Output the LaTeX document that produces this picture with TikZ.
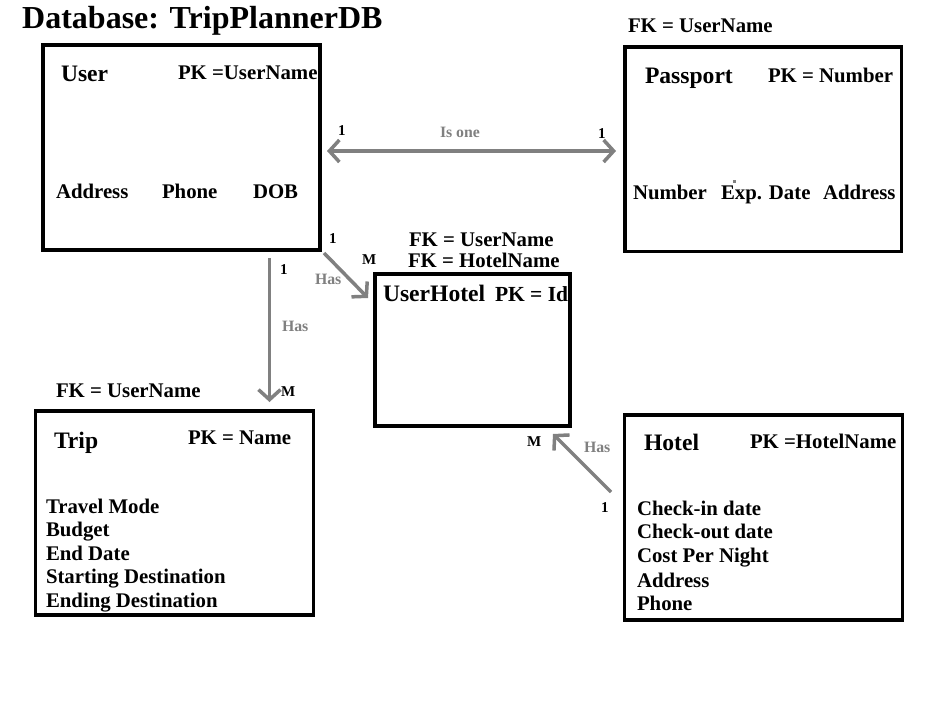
\documentclass[tikz,border=0pt]{standalone}
\usepackage{fontspec}
\setmainfont{Liberation Serif}[BoldFont={Liberation Serif Bold}]
\usetikzlibrary{arrows.meta,calc}
\definecolor{relgray}{HTML}{808080}
\tikzset{
  entity/.style={draw=black, line width=3.5pt, rectangle, inner sep=0pt, outer sep=0pt},
  txt/.style={anchor=base west, inner sep=0pt, outer sep=0pt, font=\bfseries\fontsize{20.8}{24}\selectfont},
  ttl/.style={anchor=base west, inner sep=0pt, outer sep=0pt, font=\bfseries\fontsize{23.6}{28}\selectfont},
  card/.style={anchor=base west, inner sep=0pt, outer sep=0pt, font=\bfseries\fontsize{15}{18}\selectfont},
  rel/.style={anchor=base west, inner sep=0pt, outer sep=0pt, text=relgray, font=\bfseries\fontsize{15.8}{18}\selectfont},
  link/.style={draw=relgray, line width=3.5pt, -{Straight Barb[length=10pt,width=22pt]}},
  dlink/.style={draw=relgray, line width=3.5pt, {Straight Barb[length=10pt,width=22pt]}-{Straight Barb[length=10pt,width=22pt]}}
}
\begin{document}
\begin{tikzpicture}[x=1pt,y=-1pt]
\useasboundingbox (0,0) rectangle (951,715);
\fill[white] (0,0) rectangle (951,715);

% title
\node[anchor=base west, inner sep=0pt, font=\bfseries\fontsize{32}{36}\selectfont] (title) at (22,28) {Database: TripPlannerDB};

% boxes
\node[entity, minimum width=277pt, minimum height=205pt] (user) at (181.5,147.5) {};
\node[entity, minimum width=276.5pt, minimum height=204.5pt] (passport) at (763.25,149.25) {};
\node[entity, minimum width=195pt, minimum height=152pt] (userhotel) at (472.5,350) {};
\node[entity, minimum width=278pt, minimum height=204pt] (trip) at (174.5,513) {};
\node[entity, minimum width=278pt, minimum height=205pt] (hotel) at (763.5,517.5) {};

% User
\node[ttl] (userT) at (61,81) {User};
\node[txt] (userPK) at (178,79) {PK =UserName};
\node[txt] (userA) at (56,198) {Address};
\node[txt] (userP) at (162,198) {Phone};
\node[txt] (userD) at (253,198) {DOB};

% Passport
\node[txt] (passFK) at (628,32) {FK = UserName};
\node[ttl] (passT) at (645,83) {Passport};
\node[txt] (passPK) at (768,82) {PK = Number};
\node[txt] (passN) at (633,199) {Number};
\node[txt] (passE) at (721,199) {Exp. Date};
\node[txt] (passA) at (823,199) {Address};
\fill[relgray] (733,180) rectangle (736,183);

% UserHotel
\node[txt] (uhFK1) at (409,246) {FK = UserName};
\node[txt] (uhFK2) at (408,267) {FK = HotelName};
\node[ttl] (uhT) at (383,301) {UserHotel};
\node[txt, font=\bfseries\fontsize{21.5}{26}\selectfont] (uhPK) at (495,301) {PK = Id};

% Trip
\node[txt] (tripFK) at (56,397) {FK = UserName};
\node[ttl] (tripT) at (54,448) {Trip};
\node[txt] (tripPK) at (188,444) {PK = Name};
\node[txt] (trip1) at (46,513) {Travel Mode};
\node[txt] (trip2) at (46,536) {Budget};
\node[txt] (trip3) at (46,560) {End Date};
\node[txt] (trip4) at (46,583) {Starting Destination};
\node[txt] (trip5) at (46,607) {Ending Destination};

% Hotel
\node[ttl] (hotelT) at (644,450) {Hotel};
\node[txt] (hotelPK) at (750,448) {PK =HotelName};
\node[txt] (hotel1) at (637,515) {Check-in date};
\node[txt] (hotel2) at (637,538) {Check-out date};
\node[txt] (hotel3) at (637,562) {Cost Per Night};
\node[txt] (hotel4) at (637,587) {Address};
\node[txt] (hotel5) at (637,610) {Phone};

% connectors
\draw[dlink] ($(user.east)+(7,3.5)$) -- ($(passport.west)+(-9,1.75)$);
\draw[link] ($(user.south east)+(4,3)$) -- ($(userhotel.north west)+(-7,24)$);
\draw[link] ($(user.south west)+(226.5,8)$) -- ($(trip.north west)+(234,-9)$);
\draw[link] ($(hotel.west)+(-13.5,-25.5)$) -- ($(userhotel.south east)+(-17,8)$);

% connector labels
\node[card] (c1) at (338,135) {1};
\node[rel] (r1) at (440,137) {Is one};
\node[card] (c2) at (598,138) {1};
\node[card] (c3) at (329,243) {1};
\node[card] (c4) at (362,264) {M};
\node[rel] (r2) at (315,284) {Has};
\node[card] (c5) at (280,274) {1};
\node[rel] (r3) at (282,331) {Has};
\node[card] (c6) at (281,396) {M};
\node[card] (c7) at (527,446) {M};
\node[rel] (r4) at (584,452) {Has};
\node[card] (c8) at (601,512) {1};
\end{tikzpicture}
\end{document}
